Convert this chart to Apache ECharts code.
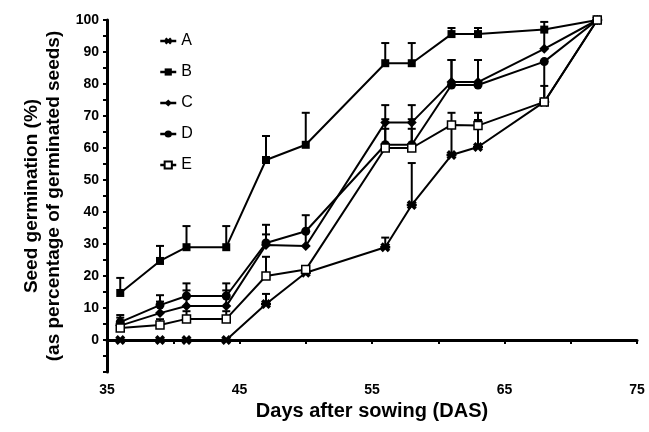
<!DOCTYPE html>
<html>
<head>
<meta charset="utf-8">
<script src="https://cdn.jsdelivr.net/npm/echarts@6/dist/echarts.min.js"></script>
<style>html,body{margin:0;padding:0;background:#fff;}#c{width:649px;height:432px;}</style>
</head>
<body>
<div id="c"></div>
<script>
var days = [36, 39, 41, 44, 47, 50, 56, 58, 61, 63, 68, 72];
var seriesNames = ['A', 'B', 'C', 'D', 'E'];
var A = [0, 0, 0, 0, 11.25, 21, 29, 42.2, 57.8, 60.3, 74.4, 100];
var B = [14.7, 24.7, 29, 29, 56.25, 61, 86.5, 86.5, 95.6, 95.6, 97, 100];
var C = [4.5, 8.4, 10.6, 10.6, 29.7, 29.4, 68, 68, 80.6, 80.6, 91, 100];
var D = [5.6, 10.9, 13.75, 13.75, 30.3, 34, 61, 61, 79.7, 79.7, 87, 100];
var E = [3.75, 4.7, 6.6, 6.6, 20, 22, 60, 60, 67.2, 67, 74.4, 100];
// error bar end values (null = none)
var A_err = [null, null, null, null, 14.4, 22.5, 32, 55.3, 67.5, 68.75, 79.4, null];
var B_err = [19.4, 29.4, 35.6, 35.6, 63.75, 71, 92.8, 92.8, 97.5, 97.5, 99.4, null];
var C_err = [7, 12, 15.5, 15.5, 33, 34, 73.4, 73.4, 87.5, 87.5, 97, null];
var D_err = [7.8, 14, 17.7, 17.7, 36, 39, 69, 69, 87.5, 87.5, 74.4, null];
var E_err = [5.5, 6.5, 9, 9, 26, null, 66, 66, 71, 71, null, null];

var values = [A, B, C, D, E];
var errs = [A_err, B_err, C_err, D_err, E_err];
var asterisk = 'path://M0,2.5L2.5,0L5,2.5L7.5,0L10,2.5L7.5,5L10,7.5L7.5,10L5,7.5L2.5,10L0,7.5L2.5,5Z M0,3.8L10,3.8L10,6.2L0,6.2Z';
var symbols = [asterisk, 'rect', 'diamond', 'circle', 'rect'];
var symSizes = [10, 8, 10, 9, 8];
var fills = ['#000', '#000', '#000', '#000', '#fff'];

var chart = echarts.init(document.getElementById('c'));
var series = [];
var errData = [];
values.forEach(function (vals, si) {
  series.push({
    name: seriesNames[si],
    type: 'line',
    data: days.map(function (d, i) { return [d, vals[i]]; }),
    symbol: symbols[si],
    symbolSize: symSizes[si],
    showAllSymbol: true,
    lineStyle: { color: '#000', width: 2 },
    itemStyle: { color: fills[si], borderColor: '#000', borderWidth: si === 4 ? 1.5 : 0 },
    z: 3
  });
  errs[si].forEach(function (e, i) {
    if (e !== null) errData.push([days[i], vals[i], e]);
  });
});
series.push({
  type: 'custom',
  name: 'err',
  data: errData,
  z: 2,
  silent: true,
  renderItem: function (params, api) {
    var p0 = api.coord([api.value(0), api.value(1)]);
    var p1 = api.coord([api.value(0), api.value(2)]);
    var hw = 4;
    return {
      type: 'group',
      children: [
        { type: 'line', shape: { x1: p0[0], y1: p0[1], x2: p1[0], y2: p1[1] }, style: { stroke: '#000', lineWidth: 2 } },
        { type: 'line', shape: { x1: p1[0] - hw, y1: p1[1], x2: p1[0] + hw, y2: p1[1] }, style: { stroke: '#000', lineWidth: 2 } }
      ]
    };
  }
});

var font = 'Liberation Sans, Arial, sans-serif';
chart.setOption({
  animation: false,
  backgroundColor: '#fff',
  grid: { left: 107, right: 12, top: 20, bottom: 60 },
  legend: {
    data: seriesNames,
    orient: 'vertical',
    left: 154,
    top: 28,
    itemWidth: 16,
    itemHeight: 9,
    itemGap: 15,
    lineStyle: { width: 2.5, color: '#000' },
    textStyle: { fontFamily: font, fontSize: 16, color: '#000' }
  },
  xAxis: {
    type: 'value',
    min: 35, max: 75, interval: 5,
    name: 'Days after sowing (DAS)',
    nameLocation: 'middle',
    nameGap: 29,
    nameTextStyle: { fontFamily: font, fontSize: 20, fontWeight: 'bold', color: '#000' },
    axisLine: { lineStyle: { color: '#000', width: 3 } },
    axisTick: { length: 4, lineStyle: { color: '#000', width: 2 } },
    axisLabel: {
      fontFamily: font, fontSize: 14, fontWeight: 'bold', color: '#000', margin: 11,
      formatter: function (v) { return (v - 35) % 10 === 0 ? String(v) : ''; }
    },
    splitLine: { show: false }
  },
  yAxis: {
    type: 'value',
    min: -10, max: 100, interval: 5,
    name: 'Seed germination (%)\n(as percentage of germinated seeds)',
    nameLocation: 'middle',
    nameGap: 42,
    nameTextStyle: { fontFamily: font, fontSize: 19, fontWeight: 'bold', color: '#000', lineHeight: 22 },
    axisLine: { lineStyle: { color: '#000', width: 3 } },
    axisTick: { length: 4, lineStyle: { color: '#000', width: 2 } },
    axisLabel: {
      fontFamily: font, fontSize: 14, fontWeight: 'bold', color: '#000', margin: 8,
      formatter: function (v) { return (v >= 0 && v % 10 === 0) ? String(v) : ''; }
    },
    splitLine: { show: false }
  },
  series: series
});
</script>
</body>
</html>
